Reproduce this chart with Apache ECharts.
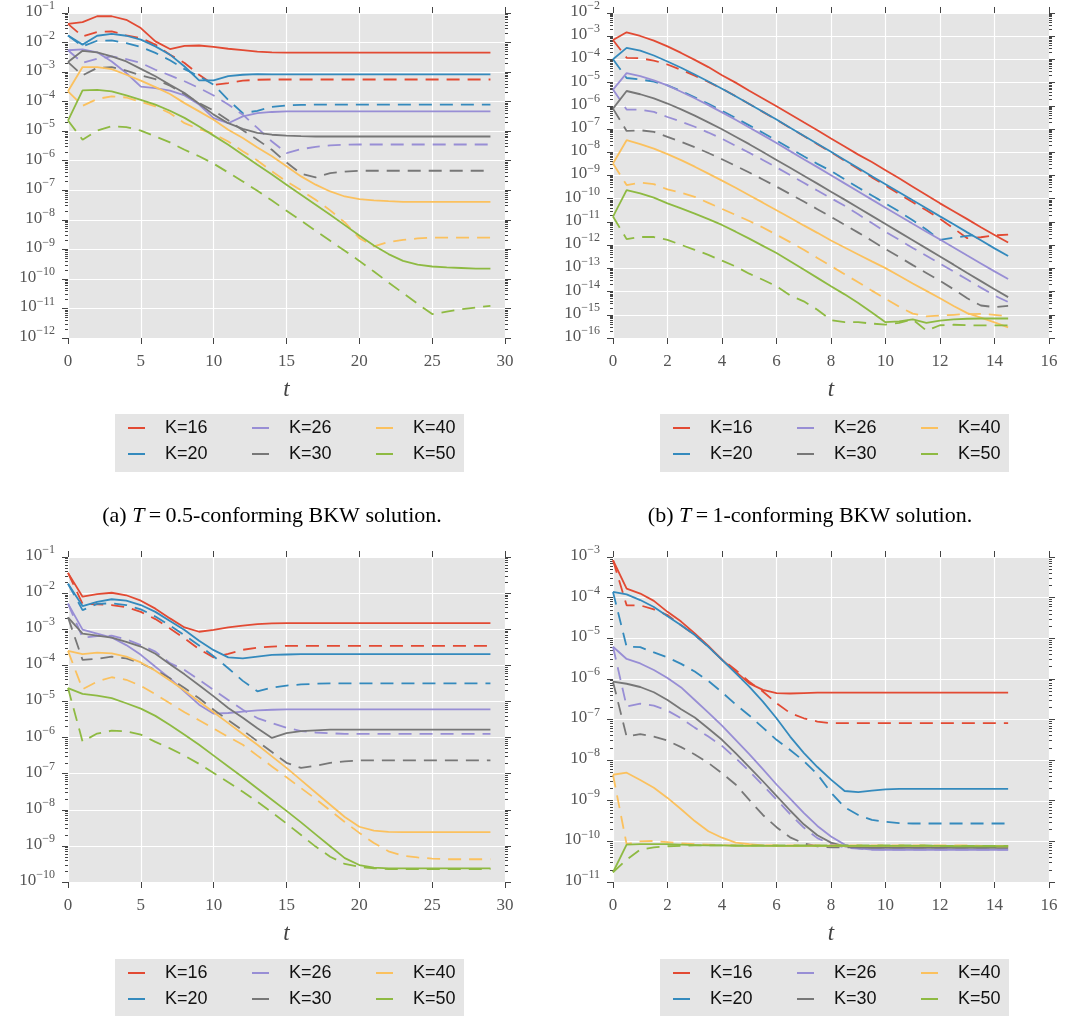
<!DOCTYPE html>
<html><head><meta charset="utf-8">
<script src="https://cdn.jsdelivr.net/npm/echarts@6/dist/echarts.min.js"></script>
<style>html,body{margin:0;padding:0;background:#fff}#c{width:1072px;height:1016px}</style>
</head><body><div id="c"></div>
<script>
// time grids
const tA = [0,1,2,3,4,5,6,7,8,9,10,11,12,13,14,15,16,17,18,19,20,21,22,23,24,25,26,27,28,29];
const tB = [0,0.5,1,1.5,2,2.5,3,3.5,4,4.5,5,5.5,6,6.5,7,7.5,8,8.5,9,9.5,10,10.5,11,11.5,12,12.5,13,13.5,14,14.5];
const KNAMES = ['K=16','K=20','K=26','K=30','K=40','K=50'];
const COLORS = ['#E24A33','#348ABD','#988ED5','#777777','#FBC15E','#8EBA42'];

// values are log10 of the error
// (a) T=0.5 BKW
const aS16 = [-1.37,-1.31,-1.11,-1.11,-1.23,-1.51,-1.96,-2.22,-2.11,-2.1,-2.15,-2.21,-2.26,-2.31,-2.33,-2.34,-2.34,-2.34,-2.34,-2.34,-2.34,-2.34,-2.34,-2.34,-2.34,-2.34,-2.34,-2.34,-2.34,-2.34];
const aD16 = [-1.37,-1.79,-1.64,-1.62,-1.76,-1.85,-2.07,-2.41,-2.69,-3.09,-3.43,-3.37,-3.29,-3.26,-3.25,-3.25,-3.25,-3.25,-3.25,-3.25,-3.25,-3.25,-3.25,-3.25,-3.25,-3.25,-3.25,-3.25,-3.25,-3.25];
const aS20 = [-1.76,-2.07,-1.77,-1.71,-1.77,-1.9,-2.13,-2.41,-2.81,-3.28,-3.28,-3.14,-3.09,-3.07,-3.08,-3.08,-3.08,-3.08,-3.08,-3.08,-3.08,-3.08,-3.08,-3.08,-3.08,-3.08,-3.08,-3.08,-3.08,-3.08];
const aD20 = [-1.76,-2.13,-1.94,-1.93,-2.02,-2.15,-2.35,-2.6,-2.9,-3.14,-3.43,-3.94,-4.39,-4.31,-4.18,-4.13,-4.11,-4.1,-4.1,-4.1,-4.1,-4.1,-4.1,-4.1,-4.1,-4.1,-4.1,-4.1,-4.1,-4.1];
const aS26 = [-2.26,-2.23,-2.33,-2.64,-3.03,-3.49,-3.54,-3.63,-3.79,-4.1,-4.56,-4.73,-4.5,-4.39,-4.35,-4.33,-4.33,-4.33,-4.33,-4.33,-4.33,-4.33,-4.33,-4.33,-4.33,-4.33,-4.33,-4.33,-4.33,-4.33];
const aD26 = [-2.26,-2.69,-2.55,-2.47,-2.56,-2.69,-2.92,-3.11,-3.31,-3.54,-3.79,-4.1,-4.44,-4.89,-5.35,-5.74,-5.61,-5.53,-5.48,-5.46,-5.45,-5.45,-5.45,-5.45,-5.45,-5.45,-5.45,-5.45,-5.45,-5.45];
const aS30 = [-2.66,-2.28,-2.33,-2.47,-2.64,-2.89,-3.14,-3.43,-3.71,-4.07,-4.44,-4.73,-4.92,-5.06,-5.12,-5.15,-5.17,-5.18,-5.18,-5.18,-5.18,-5.18,-5.18,-5.18,-5.18,-5.18,-5.18,-5.18,-5.18,-5.18];
const aD30 = [-2.66,-3.11,-2.86,-2.83,-2.95,-3.11,-3.24,-3.46,-3.74,-4.05,-4.3,-4.63,-4.97,-5.29,-5.63,-6.06,-6.44,-6.56,-6.42,-6.37,-6.34,-6.34,-6.34,-6.34,-6.34,-6.34,-6.34,-6.34,-6.34,-6.34];
const aS40 = [-3.65,-2.83,-2.83,-2.9,-3.09,-3.29,-3.51,-3.74,-4.05,-4.33,-4.61,-4.95,-5.23,-5.55,-5.85,-6.19,-6.53,-6.81,-7.04,-7.21,-7.3,-7.34,-7.37,-7.39,-7.39,-7.39,-7.39,-7.39,-7.39,-7.39];
const aD40 = [-3.65,-4.14,-3.91,-3.82,-3.86,-4.01,-4.16,-4.39,-4.73,-4.93,-5.09,-5.35,-5.68,-5.99,-6.36,-6.7,-7.0,-7.32,-7.68,-8.09,-8.62,-8.9,-8.75,-8.68,-8.63,-8.6,-8.6,-8.6,-8.6,-8.6];
const aS50 = [-4.64,-3.62,-3.6,-3.65,-3.79,-3.94,-4.1,-4.31,-4.55,-4.84,-5.15,-5.46,-5.8,-6.14,-6.47,-6.81,-7.15,-7.49,-7.83,-8.18,-8.53,-8.87,-9.16,-9.39,-9.52,-9.58,-9.61,-9.63,-9.65,-9.65];
const aD50 = [-4.64,-5.29,-4.98,-4.83,-4.86,-4.98,-5.18,-5.38,-5.63,-5.85,-6.1,-6.4,-6.7,-7.02,-7.35,-7.69,-8.03,-8.37,-8.71,-9.05,-9.39,-9.75,-10.12,-10.48,-10.84,-11.19,-11.11,-11.03,-10.97,-10.91];

// (b) T=1 BKW
const bS16 = [-3.16,-2.83,-2.99,-3.19,-3.44,-3.72,-4.02,-4.33,-4.68,-5.0,-5.35,-5.68,-6.02,-6.36,-6.71,-7.05,-7.41,-7.75,-8.1,-8.42,-8.77,-9.12,-9.48,-9.84,-10.2,-10.54,-10.88,-11.23,-11.56,-11.89];
const bD16 = [-3.16,-3.93,-3.95,-4.05,-4.22,-4.45,-4.7,-4.97,-5.26,-5.58,-5.92,-6.26,-6.6,-6.95,-7.3,-7.65,-8.0,-8.36,-8.72,-9.08,-9.43,-9.8,-10.15,-10.5,-10.87,-11.28,-11.7,-11.66,-11.58,-11.55];
const bS20 = [-3.99,-3.5,-3.62,-3.83,-4.09,-4.36,-4.65,-4.95,-5.26,-5.59,-5.92,-6.25,-6.59,-6.94,-7.29,-7.63,-7.98,-8.33,-8.68,-9.03,-9.38,-9.72,-10.07,-10.41,-10.76,-11.1,-11.45,-11.79,-12.14,-12.47];
const bD20 = [-3.99,-4.8,-4.86,-4.96,-5.12,-5.36,-5.63,-5.91,-6.21,-6.52,-6.84,-7.16,-7.49,-7.83,-8.17,-8.5,-8.8,-9.16,-9.52,-9.86,-10.2,-10.55,-10.93,-11.33,-11.77,-11.68,-11.6,-11.55,null,null];
const bS26 = [-5.3,-4.59,-4.72,-4.9,-5.12,-5.39,-5.67,-5.97,-6.28,-6.6,-6.93,-7.26,-7.6,-7.95,-8.3,-8.64,-8.99,-9.34,-9.69,-10.04,-10.39,-10.73,-11.08,-11.42,-11.76,-12.1,-12.45,-12.79,-13.13,-13.46];
const bD26 = [-5.3,-6.16,-6.16,-6.26,-6.48,-6.68,-6.9,-7.15,-7.42,-7.72,-8.02,-8.33,-8.65,-8.98,-9.31,-9.65,-9.98,-10.3,-10.67,-11.05,-11.43,-11.77,-12.12,-12.46,-12.8,-13.14,-13.48,-13.83,-14.17,-14.45];
const bS30 = [-6.12,-5.36,-5.5,-5.68,-5.9,-6.15,-6.42,-6.71,-7.01,-7.33,-7.65,-7.99,-8.33,-8.67,-9.01,-9.35,-9.7,-10.04,-10.39,-10.74,-11.09,-11.44,-11.79,-12.14,-12.49,-12.84,-13.2,-13.55,-13.9,-14.24];
const bD30 = [-6.12,-7.08,-7.05,-7.12,-7.34,-7.55,-7.78,-8.03,-8.3,-8.58,-8.87,-9.17,-9.48,-9.8,-10.12,-10.45,-10.78,-11.12,-11.46,-11.81,-12.17,-12.51,-12.86,-13.2,-13.54,-13.9,-14.29,-14.6,-14.67,-14.62];
const bS40 = [-8.48,-7.48,-7.65,-7.84,-8.08,-8.34,-8.62,-8.92,-9.22,-9.53,-9.85,-10.17,-10.5,-10.82,-11.15,-11.47,-11.8,-12.1,-12.4,-12.7,-12.99,-13.32,-13.65,-13.97,-14.29,-14.62,-14.93,-15.12,-15.33,-15.54];
const bD40 = [-8.48,-9.41,-9.31,-9.37,-9.6,-9.74,-9.92,-10.18,-10.44,-10.7,-10.96,-11.24,-11.55,-11.87,-12.2,-12.55,-12.9,-13.25,-13.6,-13.96,-14.31,-14.65,-14.95,-15.07,-15.03,-15.0,-14.97,-14.96,-15.0,-15.07];
const bS50 = [-10.77,-9.63,-9.77,-9.95,-10.2,-10.42,-10.64,-10.88,-11.13,-11.42,-11.72,-12.03,-12.34,-12.69,-13.05,-13.41,-13.77,-14.12,-14.49,-14.9,-15.32,-15.28,-15.2,-15.35,-15.25,-15.2,-15.17,-15.16,-15.16,-15.16];
const bD50 = [-10.77,-11.74,-11.65,-11.65,-11.77,-11.99,-12.2,-12.42,-12.67,-12.92,-13.23,-13.49,-13.77,-14.17,-14.42,-14.78,-15.23,-15.32,-15.32,-15.38,-15.42,-15.35,-15.2,-15.68,-15.45,-15.43,-15.45,-15.46,-15.46,-15.46];

// (c)
const cS16 = [-1.44,-2.1,-2.03,-1.99,-2.06,-2.21,-2.43,-2.7,-2.95,-3.07,-3.02,-2.95,-2.9,-2.86,-2.84,-2.83,-2.83,-2.83,-2.83,-2.83,-2.83,-2.83,-2.83,-2.83,-2.83,-2.83,-2.83,-2.83,-2.83,-2.83];
const cD16 = [-1.44,-2.3,-2.31,-2.33,-2.39,-2.52,-2.72,-2.98,-3.25,-3.55,-3.78,-3.68,-3.57,-3.51,-3.48,-3.46,-3.46,-3.46,-3.46,-3.46,-3.46,-3.46,-3.46,-3.46,-3.46,-3.46,-3.46,-3.46,-3.46,-3.46];
const cS20 = [-1.74,-2.36,-2.24,-2.17,-2.21,-2.33,-2.52,-2.77,-3.02,-3.32,-3.58,-3.78,-3.81,-3.76,-3.71,-3.7,-3.69,-3.69,-3.69,-3.69,-3.69,-3.69,-3.69,-3.69,-3.69,-3.69,-3.69,-3.69,-3.69,-3.69];
const cD20 = [-1.74,-2.47,-2.3,-2.28,-2.33,-2.45,-2.65,-2.9,-3.17,-3.45,-3.75,-4.08,-4.43,-4.72,-4.62,-4.56,-4.53,-4.51,-4.5,-4.5,-4.5,-4.5,-4.5,-4.5,-4.5,-4.5,-4.5,-4.5,-4.5,-4.5];
const cS26 = [-2.29,-3.01,-3.12,-3.23,-3.44,-3.71,-4.04,-4.36,-4.73,-5.09,-5.34,-5.32,-5.28,-5.25,-5.23,-5.22,-5.22,-5.22,-5.22,-5.22,-5.22,-5.22,-5.22,-5.22,-5.22,-5.22,-5.22,-5.22,-5.22,-5.22];
const cD26 = [-2.29,-3.23,-3.19,-3.18,-3.28,-3.44,-3.62,-3.94,-4.13,-4.4,-4.68,-4.96,-5.23,-5.46,-5.6,-5.73,-5.82,-5.86,-5.88,-5.9,-5.9,-5.9,-5.9,-5.9,-5.9,-5.9,-5.9,-5.9,-5.9,-5.9];
const cS30 = [-2.67,-3.12,-3.18,-3.23,-3.35,-3.48,-3.68,-3.97,-4.25,-4.55,-4.86,-5.18,-5.45,-5.74,-6.01,-5.88,-5.82,-5.8,-5.78,-5.78,-5.78,-5.78,-5.78,-5.78,-5.78,-5.78,-5.78,-5.78,-5.78,-5.78];
const cD30 = [-2.67,-3.85,-3.82,-3.76,-3.81,-3.94,-4.13,-4.36,-4.63,-4.91,-5.23,-5.52,-5.8,-6.1,-6.4,-6.7,-6.84,-6.78,-6.7,-6.66,-6.63,-6.63,-6.63,-6.63,-6.63,-6.63,-6.63,-6.63,-6.63,-6.63];
const cS40 = [-3.6,-3.69,-3.65,-3.67,-3.76,-3.92,-4.15,-4.42,-4.7,-5.0,-5.3,-5.6,-5.9,-6.2,-6.52,-6.84,-7.18,-7.52,-7.86,-8.2,-8.47,-8.58,-8.61,-8.62,-8.62,-8.62,-8.62,-8.62,-8.62,-8.62];
const cD40 = [-3.6,-4.66,-4.45,-4.33,-4.4,-4.57,-4.8,-5.05,-5.3,-5.52,-5.75,-5.98,-6.2,-6.5,-6.8,-7.1,-7.4,-7.7,-8.02,-8.34,-8.64,-8.92,-9.15,-9.27,-9.32,-9.35,-9.37,-9.37,-9.37,-9.37];
const cS50 = [-4.63,-4.79,-4.84,-4.91,-5.05,-5.2,-5.4,-5.65,-5.92,-6.2,-6.5,-6.8,-7.1,-7.41,-7.72,-8.03,-8.35,-8.68,-9.01,-9.34,-9.53,-9.6,-9.62,-9.62,-9.62,-9.62,-9.62,-9.62,-9.62,-9.62];
const cD50 = [-4.63,-6.11,-5.89,-5.81,-5.83,-5.92,-6.12,-6.3,-6.5,-6.73,-6.98,-7.24,-7.5,-7.78,-8.07,-8.38,-8.7,-9.02,-9.3,-9.5,-9.58,-9.62,-9.64,-9.64,-9.64,-9.64,-9.64,-9.64,-9.64,-9.64];

// (d)
const dS16 = [-3.08,-3.78,-3.9,-4.08,-4.35,-4.59,-4.88,-5.19,-5.53,-5.82,-6.11,-6.27,-6.35,-6.36,-6.35,-6.34,-6.34,-6.34,-6.34,-6.34,-6.34,-6.34,-6.34,-6.34,-6.34,-6.34,-6.34,-6.34,-6.34,-6.34];
const dD16 = [-3.08,-4.19,-4.19,-4.29,-4.43,-4.68,-4.92,-5.21,-5.52,-5.78,-6.07,-6.31,-6.6,-6.84,-6.97,-7.05,-7.09,-7.09,-7.09,-7.09,-7.09,-7.09,-7.09,-7.09,-7.09,-7.09,-7.09,-7.09,-7.09,-7.09];
const dS20 = [-3.86,-3.92,-4.06,-4.23,-4.46,-4.68,-4.92,-5.21,-5.53,-5.86,-6.19,-6.56,-6.97,-7.42,-7.82,-8.17,-8.48,-8.76,-8.79,-8.75,-8.72,-8.71,-8.71,-8.71,-8.71,-8.71,-8.71,-8.71,-8.71,-8.71];
const dD20 = [-3.86,-5.21,-5.22,-5.35,-5.47,-5.63,-5.82,-6.05,-6.33,-6.63,-6.9,-7.2,-7.5,-7.75,-8.02,-8.35,-8.8,-9.16,-9.35,-9.47,-9.52,-9.55,-9.56,-9.56,-9.56,-9.56,-9.56,-9.56,-9.56,-9.56];
const dS26 = [-5.21,-5.51,-5.62,-5.78,-5.98,-6.21,-6.52,-6.83,-7.15,-7.5,-7.85,-8.22,-8.6,-8.95,-9.3,-9.62,-9.88,-10.08,-10.17,-10.2,-10.21,-10.21,-10.21,-10.21,-10.21,-10.21,-10.21,-10.21,-10.21,-10.21];
const dD26 = [-5.21,-6.68,-6.61,-6.66,-6.78,-6.97,-7.2,-7.42,-7.65,-7.95,-8.27,-8.62,-8.97,-9.33,-9.66,-9.92,-10.07,-10.15,-10.18,-10.2,-10.2,-10.2,-10.2,-10.2,-10.2,-10.2,-10.2,-10.2,-10.2,-10.2];
const dS30 = [-6.07,-6.12,-6.2,-6.33,-6.52,-6.75,-6.95,-7.22,-7.5,-7.83,-8.17,-8.52,-8.88,-9.24,-9.58,-9.85,-10.03,-10.12,-10.15,-10.16,-10.16,-10.16,-10.16,-10.16,-10.16,-10.16,-10.16,-10.16,-10.16,-10.16];
const dD30 = [-6.07,-7.42,-7.36,-7.42,-7.52,-7.68,-7.86,-8.07,-8.32,-8.6,-8.98,-9.35,-9.65,-9.9,-10.05,-10.12,-10.15,-10.15,-10.15,-10.15,-10.15,-10.15,-10.15,-10.15,-10.15,-10.15,-10.15,-10.15,-10.15,-10.15];
const dS40 = [-8.36,-8.31,-8.49,-8.68,-8.93,-9.21,-9.5,-9.75,-9.91,-10.03,-10.07,-10.1,-10.11,-10.11,-10.11,-10.11,-10.11,-10.11,-10.11,-10.11,-10.11,-10.11,-10.11,-10.11,-10.11,-10.11,-10.11,-10.11,-10.11,-10.11];
const dD40 = [-8.36,-10.07,-10.0,-9.99,-10.02,-10.05,-10.07,-10.08,-10.09,-10.1,-10.1,-10.1,-10.1,-10.1,-10.1,-10.1,-10.1,-10.1,-10.1,-10.1,-10.1,-10.1,-10.1,-10.1,-10.1,-10.1,-10.1,-10.11,-10.12,-10.12];
const dS50 = [-10.76,-10.08,-10.07,-10.07,-10.07,-10.08,-10.09,-10.1,-10.1,-10.11,-10.11,-10.11,-10.11,-10.11,-10.11,-10.11,-10.11,-10.11,-10.11,-10.11,-10.11,-10.11,-10.11,-10.11,-10.11,-10.12,-10.12,-10.12,-10.12,-10.12];
const dD50 = [-10.76,-10.45,-10.2,-10.15,-10.12,-10.11,-10.1,-10.1,-10.1,-10.1,-10.1,-10.1,-10.1,-10.1,-10.1,-10.1,-10.1,-10.1,-10.1,-10.1,-10.1,-10.1,-10.1,-10.1,-10.11,-10.11,-10.11,-10.11,-10.11,-10.11];

const SERIF = 'Liberation Serif';
const SANS = 'Liberation Sans';

const PANELS = [
  {left:68, top:13, width:437, height:325, xMax:30, xInt:5, yMinExp:-12, yMaxExp:-1, t:tA,
   solid:[aS16,aS20,aS26,aS30,aS40,aS50], dashed:[aD16,aD20,aD26,aD30,aD40,aD50],
   box:[115,414], cap:{x:272, y:505, pre:'(a) ', val:'0.5'}},
  {left:613, top:12, width:436, height:326, xMax:16, xInt:2, yMinExp:-16, yMaxExp:-2, t:tB,
   solid:[bS16,bS20,bS26,bS30,bS40,bS50], dashed:[bD16,bD20,bD26,bD30,bD40,bD50],
   box:[660,414], cap:{x:810, y:505, pre:'(b) ', val:'1'}},
  {left:68, top:557, width:437, height:325, xMax:30, xInt:5, yMinExp:-10, yMaxExp:-1, t:tA,
   solid:[cS16,cS20,cS26,cS30,cS40,cS50], dashed:[cD16,cD20,cD26,cD30,cD40,cD50],
   box:[115,959], cap:null},
  {left:613, top:557, width:436, height:325, xMax:16, xInt:2, yMinExp:-11, yMaxExp:-3, t:tB,
   solid:[dS16,dS20,dS26,dS30,dS40,dS50], dashed:[dD16,dD20,dD26,dD30,dD40,dD50],
   box:[660,959], cap:null}
];

function expLabel(v){
  const e = Math.round(Math.log10(v));
  return '{b|10}{s|' + (e < 0 ? '\u2212' + (-e) : String(e)) + '}';
}
const TICK = {color:'#444', width:1};
const LABEL_RICH = {
  b:{fontFamily:SERIF, fontSize:17, color:'#555', lineHeight:14, padding:[0,0,3,0]},
  s:{fontFamily:SERIF, fontSize:12, color:'#555', lineHeight:2, padding:[0,0,14,0]}
};
const NY = 5; // y axes per grid

const grid = [], xAxis = [], yAxis = [], series = [], legend = [], title = [], graphic = [];
PANELS.forEach((p, gi) => {
  grid.push({left:p.left, top:p.top, width:p.width, height:p.height, show:true,
             backgroundColor:'#E5E5E5', borderWidth:0});
  const majors = [], minors = [];
  for (let n = p.yMinExp; n <= p.yMaxExp; n++) {
    majors.push(parseFloat('1e' + n));
    if (n < p.yMaxExp) for (let k = 2; k <= 9; k++) minors.push(parseFloat(k + 'e' + n));
  }
  // keep the end ticks just inside the axis extent (floating point)
  majors[0] *= 1.000001;
  majors[majors.length - 1] *= 0.999999;
  // labels split over two axes (alternate decades) so none is auto-hidden
  const labelsEven = majors.filter((v, i) => i % 2 === 0);
  const labelsOdd = majors.filter((v, i) => i % 2 === 1);
  const yMin = parseFloat('1e' + p.yMinExp), yMax = parseFloat('1e' + p.yMaxExp);
  xAxis.push({type:'value', gridIndex:gi, position:'bottom', min:0, max:p.xMax, interval:p.xInt,
    axisLine:{show:false}, axisTick:{show:true, length:6, lineStyle:TICK},
    axisLabel:{fontFamily:SERIF, fontSize:17, color:'#555', margin:15, showMinLabel:true, showMaxLabel:true},
    splitLine:{show:true, lineStyle:{color:'#fff', width:1.2}},
    name:'t', nameLocation:'middle', nameGap:40,
    nameTextStyle:{fontFamily:SERIF, fontStyle:'italic', fontSize:23, color:'#444'}});
  xAxis.push({type:'value', gridIndex:gi, position:'top', min:0, max:p.xMax, interval:p.xInt,
    axisLine:{show:false}, axisTick:{show:true, length:6, lineStyle:TICK},
    axisLabel:{show:false}, splitLine:{show:false}});
  const yBase = {type:'log', logBase:10, gridIndex:gi, min:yMin, max:yMax, axisLine:{show:false}};
  yAxis.push(Object.assign({}, yBase, {position:'left',
    axisTick:{show:true, length:6, lineStyle:TICK, customValues:majors},
    axisLabel:{customValues:labelsEven, formatter:expLabel, margin:13, showMinLabel:true, showMaxLabel:true, rich:LABEL_RICH},
    splitLine:{show:true, lineStyle:{color:'#fff', width:1.2}}}));
  yAxis.push(Object.assign({}, yBase, {position:'left',
    axisTick:{show:false},
    axisLabel:{customValues:labelsOdd, formatter:expLabel, margin:13, showMinLabel:true, showMaxLabel:true, rich:LABEL_RICH},
    splitLine:{show:false}}));
  yAxis.push(Object.assign({}, yBase, {position:'left',
    axisTick:{show:true, length:3, lineStyle:TICK, customValues:minors},
    axisLabel:{show:false}, splitLine:{show:false}}));
  yAxis.push(Object.assign({}, yBase, {position:'right',
    axisTick:{show:true, length:6, lineStyle:TICK, customValues:majors},
    axisLabel:{show:false}, splitLine:{show:false}}));
  yAxis.push(Object.assign({}, yBase, {position:'right',
    axisTick:{show:true, length:3, lineStyle:TICK, customValues:minors},
    axisLabel:{show:false}, splitLine:{show:false}}));

  for (let k = 0; k < 6; k++) {
    const mk = (arr) => {
      const d = [];
      p.t.forEach((t, i) => { if (arr[i] != null) d.push([t, Math.pow(10, arr[i])]); });
      return d;
    };
    series.push({type:'line', name:KNAMES[k], xAxisIndex:gi*2, yAxisIndex:gi*NY, data:mk(p.solid[k]),
      symbol:'none', showSymbol:false, color:COLORS[k], lineStyle:{color:COLORS[k], width:1.8}, z:3});
    series.push({type:'line', name:KNAMES[k] + ' dashed', xAxisIndex:gi*2, yAxisIndex:gi*NY, data:mk(p.dashed[k]),
      symbol:'none', showSymbol:false, color:COLORS[k], lineStyle:{color:COLORS[k], width:1.8, type:[13,8]}, z:3});
  }

  graphic.push({type:'rect', left:p.box[0], top:p.box[1], shape:{width:349, height:58},
    style:{fill:'#E5E5E5'}, z:0});
  for (let c = 0; c < 3; c++) {
    legend.push({orient:'vertical', left:p.box[0] + 13 + c*124, top:p.box[1] + 5, padding:0,
      itemGap:8, itemWidth:17, itemHeight:2, icon:'rect', selectedMode:false, z:5,
      data:[KNAMES[c*2], KNAMES[c*2+1]],
      textStyle:{fontFamily:SANS, fontSize:18, color:'#111', lineHeight:18, padding:[0,0,0,15]}});
  }
  if (p.cap) {
    title.push({left:p.cap.x, top:p.cap.y, textAlign:'center', padding:0,
      text:'{n|' + p.cap.pre + '}{i|T}{n|\u2009=\u2009' + p.cap.val + '-conforming BKW solution.}',
      textStyle:{fontWeight:'normal', rich:{
        n:{fontFamily:SERIF, fontSize:22, fontWeight:'normal', color:'#000'},
        i:{fontFamily:SERIF, fontSize:22, fontWeight:'normal', fontStyle:'italic', color:'#000'}
      }}});
  }
});

const chart = echarts.init(document.getElementById('c'), null, {renderer:'canvas'});
chart.setOption({animation:false, backgroundColor:'#fff', grid, xAxis, yAxis, series, legend, title, graphic});
</script>
</body></html>
